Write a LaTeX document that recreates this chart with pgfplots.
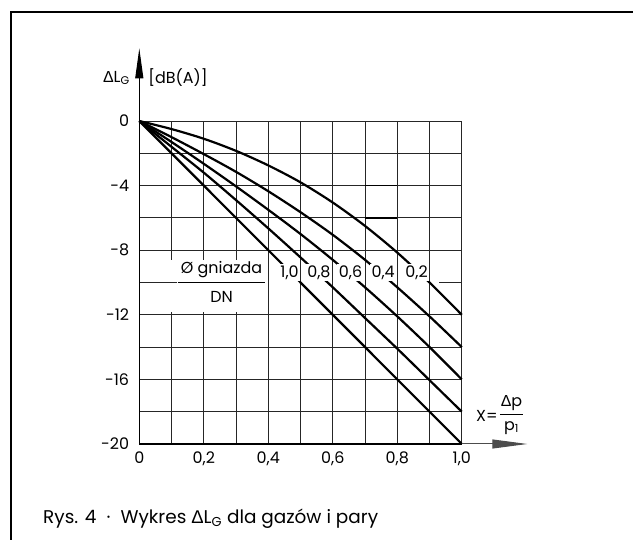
\documentclass[border=0pt]{standalone}
\usepackage{pgfplots}
\pgfplotsset{compat=1.18}
\usetikzlibrary{arrows.meta}
\usepackage{fontspec}
\setmainfont{Poppins}
\newfontfamily\grk{Liberation Sans}
\newcommand\D{{\grk Δ}}
\newcommand\fs{\fontsize{16}{19}\selectfont}
\newcommand\fc{\fontsize{18.5}{22}\selectfont}

\begin{document}
\begin{tikzpicture}
\useasboundingbox (0,0) rectangle (633bp,543bp);
% frame
\draw[line width=2.6bp] (11bp,3bp) -- (11bp,531bp) -- (633bp,531bp);
\node[anchor=base west, font=\fc, inner sep=0] at (43bp,20bp)
  {Rys. 4\hspace{0.55em}·\hspace{0.55em}Wykres \D L\textsubscript{G} dla gazów i pary};

\begin{axis}[
  at={(139.3bp,99bp)}, anchor=south west,
  scale only axis, width=322.5bp, height=323bp,
  xmin=0, xmax=1, ymin=-20, ymax=0,
  clip=false,
  axis line style={draw=none},
  xtick={0,0.2,0.4,0.6,0.8,1},
  xticklabels={0,{0,2},{0,4},{0,6},{0,8},{1,0}},
  minor xtick={0.1,0.3,0.5,0.7,0.9},
  ytick={-20,-16,-12,-8,-4,0},
  yticklabels={-20,-16,-12,-8,-4,0},
  minor ytick={-18,-14,-6,-2},
  grid=both,
  major grid style={black!85, line width=0.9bp},
  minor grid style={black!85, line width=0.9bp},
  major tick length=0pt, minor tick length=0pt,
  tick label style={font=\fs, inner sep=0pt},
  xticklabel style={anchor=north, yshift=-8bp},
  yticklabel style={anchor=east, xshift=-10bp},
]
% seat diameter / DN = 0.2 ... 1.0
\addplot[black, line width=2.2bp, smooth] coordinates {
  (0,0) (0.1,-0.5) (0.2,-1.1) (0.3,-1.85) (0.4,-2.75) (0.5,-3.8)
  (0.6,-5.05) (0.7,-6.5) (0.8,-8.15) (0.9,-10.0) (1,-12)};
\addplot[black, line width=2.2bp, smooth] coordinates {
  (0,0) (0.1,-1.0) (0.2,-2.05) (0.3,-3.15) (0.4,-4.35) (0.5,-5.65)
  (0.6,-7.05) (0.7,-8.6) (0.8,-10.3) (0.9,-12.1) (1,-14)};
\addplot[black, line width=2.2bp, smooth] coordinates {
  (0,0) (0.1,-1.3) (0.2,-2.65) (0.3,-4.05) (0.4,-5.5) (0.5,-7.0)
  (0.6,-8.6) (0.7,-10.3) (0.8,-12.1) (0.9,-14.0) (1,-16)};
\addplot[black, line width=2.2bp, smooth] coordinates {
  (0,0) (0.1,-1.6) (0.2,-3.2) (0.3,-4.9) (0.4,-6.65) (0.5,-8.45)
  (0.6,-10.3) (0.7,-12.2) (0.8,-14.1) (0.9,-16.05) (1,-18)};
\addplot[black, line width=2.2bp] coordinates {(0,0) (1,-20)};

% gaps in the grid and the -10 line
\fill[white] (axis cs:0.09,-8.6) rectangle (axis cs:0.385,-11.8);
\draw[black!85, line width=0.9bp] (axis cs:0,-10) -- (axis cs:0.116,-10);
\draw[black!85, line width=0.9bp] (axis cs:0.93,-10) -- (axis cs:1,-10);
\draw[line width=1.8bp] (axis cs:0.7,-4) -- (axis cs:0.8,-4);
\draw[line width=1.8bp] (axis cs:0.7,-6) -- (axis cs:0.8,-6);

% axes
\draw[line width=2.2bp] (axis cs:0,-20) -- (axis cs:1,-20);
\draw[line width=1bp, black!70, -{Triangle[length=35bp,width=9bp]}]
  (axis cs:1,-20) -- (axis cs:1.203,-20);
\draw[line width=1bp, -{Triangle[length=30bp,width=8bp]}]
  (axis cs:0,-20) -- (axis cs:0,4.5);

% curve labels
\node[fill=white, inner sep=1.5bp, font=\fs] at (axis cs:0.466,-9.37) {1,0};
\node[fill=white, inner sep=1.5bp, font=\fs] at (axis cs:0.557,-9.37) {0,8};
\node[fill=white, inner sep=1.5bp, font=\fs] at (axis cs:0.655,-9.37) {0,6};
\node[fill=white, inner sep=1.5bp, font=\fs] at (axis cs:0.756,-9.37) {0,4};
\node[fill=white, inner sep=1.5bp, font=\fs] at (axis cs:0.86,-9.37) {0,2};
\node[font=\fs, inner sep=0] at (axis cs:0.255,-9.2) {Ø gniazda};
\draw[line width=1.3bp] (axis cs:0.119,-10) -- (axis cs:0.389,-10);
\node[font=\fs, inner sep=0] at (axis cs:0.255,-10.88) {DN};

% axis titles
\node[font=\fs, inner sep=0] at (axis cs:-0.071,2.66) {\D L\textsubscript{G}};
\node[font=\fs, inner sep=0] at (axis cs:0.12,2.69) {[dB(A)]};
\node[font=\fs, inner sep=0] at (axis cs:1.078,-18.27) {X=};
\draw[line width=1.2bp] (axis cs:1.118,-18.17) -- (axis cs:1.19,-18.17);
\node[font=\fs, inner sep=0] at (axis cs:1.154,-17.46) {\D p};
\node[font=\fs, inner sep=0] at (axis cs:1.154,-19.0) {p\textsubscript{1}};
\end{axis}
\end{tikzpicture}
\end{document}
